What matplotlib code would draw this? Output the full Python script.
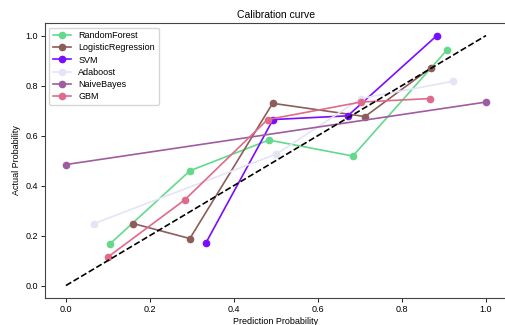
import matplotlib
matplotlib.use('Agg')
import matplotlib.pyplot as plt

plt.rcParams['font.family'] = ['Liberation Sans', 'DejaVu Sans']

# Calibration data (mean predicted prob, fraction of positives)
rf_x = [0.105, 0.295, 0.483, 0.683, 0.908]
rf_y = [0.167, 0.459, 0.582, 0.518, 0.944]

lr_x = [0.160, 0.295, 0.492, 0.712, 0.868]
lr_y = [0.248, 0.188, 0.729, 0.676, 0.870]

svm_x = [0.333, 0.493, 0.671, 0.883]
svm_y = [0.170, 0.664, 0.679, 1.000]

ada_x = [0.067, 0.501, 0.702, 0.921]
ada_y = [0.248, 0.526, 0.748, 0.817]

nb_x = [0.0, 1.0]
nb_y = [0.484, 0.734]

gbm_x = [0.099, 0.283, 0.480, 0.702, 0.867]
gbm_y = [0.113, 0.343, 0.664, 0.734, 0.748]

modelos = [
    ('RandomForest',       rf_x,  rf_y,  '#63d98b'),
    ('LogisticRegression', lr_x,  lr_y,  '#8c5e5a'),
    ('SVM',                svm_x, svm_y, '#7a0cff'),
    ('Adaboost',           ada_x, ada_y, '#e4e4f7'),
    ('NaiveBayes',         nb_x,  nb_y,  '#a05ca0'),
    ('GBM',                gbm_x, gbm_y, '#e06a8a'),
]

fig = plt.figure(figsize=(5.05, 3.25), dpi=100)
ax = fig.add_axes([0.089, 0.083, 0.915, 0.846])

for nome, xs, ys, cor in modelos:
    ax.plot(xs, ys, marker='o', markersize=4.5, linewidth=1.2,
            color=cor, label=nome)

ax.plot([0, 1], [0, 1], linestyle='--', color='black', linewidth=1.2)

ax.set_title('Calibration curve', fontsize=7.5, pad=4)
ax.set_xlabel('Prediction Probability', fontsize=6.5, labelpad=2)
ax.set_ylabel('Actual Probability', fontsize=6.5, labelpad=3)
ax.tick_params(labelsize=6.5, length=3, width=0.6, pad=2)
ax.set_xticks([0.0, 0.2, 0.4, 0.6, 0.8, 1.0])
ax.set_yticks([0.0, 0.2, 0.4, 0.6, 0.8, 1.0])
for s in ax.spines.values():
    s.set_color('#444444')
    s.set_linewidth(0.8)

ax.legend(loc='upper left', fontsize=6.5, frameon=True, framealpha=0.8,
          borderpad=0.4, labelspacing=0.35, handlelength=2.0)

plt.savefig('out.png', dpi=100)
